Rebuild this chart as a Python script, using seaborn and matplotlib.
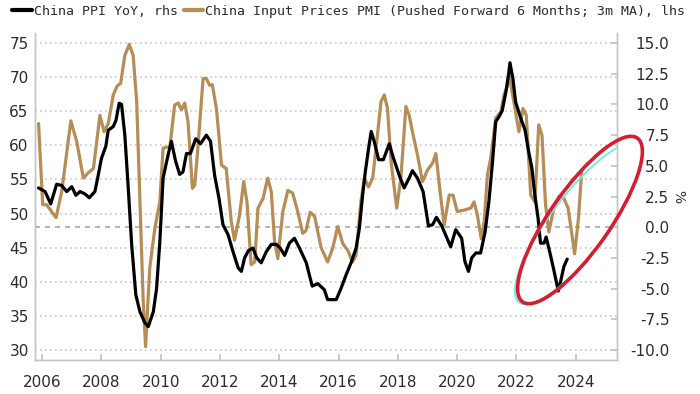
import matplotlib
matplotlib.use("Agg")
import matplotlib.pyplot as plt
import seaborn as sns
from matplotlib.lines import Line2D
from matplotlib.patches import Ellipse
from matplotlib.transforms import IdentityTransform

# China PPI YoY (%), right axis
ppi_years = [2005.88, 2006.10, 2006.29, 2006.49, 2006.66, 2006.83, 2007.00, 2007.14,
             2007.28, 2007.45, 2007.59, 2007.78, 2007.89, 2008.00, 2008.15, 2008.23,
             2008.40, 2008.49, 2008.60, 2008.68, 2008.79, 2008.90, 2009.02, 2009.16,
             2009.30, 2009.47, 2009.58, 2009.75, 2009.86, 2009.97, 2010.08, 2010.25,
             2010.36, 2010.50, 2010.64, 2010.75, 2010.87, 2011.00, 2011.18, 2011.34,
             2011.54, 2011.68, 2011.82, 2011.97, 2012.10, 2012.27, 2012.44, 2012.61,
             2012.72, 2012.83, 2012.96, 2013.11, 2013.24, 2013.39, 2013.56, 2013.73,
             2013.90, 2014.03, 2014.18, 2014.34, 2014.51, 2014.68, 2014.91, 2015.11,
             2015.30, 2015.52, 2015.63, 2015.92, 2016.08, 2016.25, 2016.42, 2016.59,
             2016.70, 2016.81, 2016.90, 2017.01, 2017.10, 2017.20, 2017.35, 2017.51,
             2017.71, 2017.84, 2018.05, 2018.21, 2018.38, 2018.49, 2018.66, 2018.85,
             2019.03, 2019.17, 2019.30, 2019.48, 2019.64, 2019.78, 2019.95, 2020.15,
             2020.26, 2020.38, 2020.49, 2020.63, 2020.79, 2020.94, 2021.07, 2021.19,
             2021.30, 2021.41, 2021.52, 2021.64, 2021.73, 2021.78, 2021.88, 2021.97,
             2022.14, 2022.29, 2022.40, 2022.52, 2022.62, 2022.73, 2022.81, 2022.93,
             2023.00, 2023.12, 2023.26, 2023.41, 2023.49, 2023.60, 2023.71]
ppi_values = [3.2, 2.9, 1.9, 3.5, 3.4, 2.9, 3.3, 2.6,
              2.9, 2.7, 2.4, 2.9, 4.2, 5.6, 6.6, 7.9,
              8.2, 8.7, 10.1, 10.0, 7.5, 3.4, -1.4, -5.5,
              -6.9, -7.8, -8.1, -6.9, -5.0, -1.2, 4.0, 5.9,
              7.0, 5.4, 4.3, 4.5, 6.0, 6.0, 7.2, 6.8,
              7.5, 7.0, 4.2, 2.3, 0.2, -0.6, -2.0, -3.3,
              -3.6, -2.5, -1.9, -1.7, -2.5, -2.9, -2.0, -1.4,
              -1.4, -1.7, -2.3, -1.3, -0.9, -1.7, -2.9, -4.8,
              -4.6, -5.1, -5.9, -5.9, -5.0, -3.9, -2.9, -1.7,
              -0.1, 2.6, 4.5, 6.4, 7.8, 7.0, 5.5, 5.5,
              6.8, 5.7, 4.2, 3.2, 4.0, 4.6, 4.0, 2.9,
              0.1, 0.2, 0.8, 0.1, -0.8, -1.6, -0.2, -0.9,
              -2.8, -3.6, -2.5, -2.1, -2.1, -0.4, 2.1, 5.3,
              8.6, 9.0, 9.5, 11.0, 12.4, 13.4, 12.1, 10.2,
              8.9, 7.9, 6.3, 4.8, 2.6, 0.7, -1.3, -1.3,
              -0.8, -2.0, -3.5, -5.2, -4.4, -3.2, -2.6]

# China Input Prices PMI (pushed forward 6 months; 3m MA), left axis
pmi_years = [2005.88, 2006.02, 2006.15, 2006.47, 2006.66, 2006.97, 2007.17, 2007.39,
             2007.56, 2007.73, 2007.95, 2008.09, 2008.23, 2008.40, 2008.53, 2008.65,
             2008.79, 2008.94, 2009.07, 2009.19, 2009.30, 2009.41, 2009.49, 2009.63,
             2009.80, 2009.97, 2010.08, 2010.31, 2010.47, 2010.59, 2010.70, 2010.81,
             2010.92, 2011.07, 2011.15, 2011.26, 2011.43, 2011.54, 2011.65, 2011.74,
             2011.88, 2012.05, 2012.21, 2012.38, 2012.49, 2012.66, 2012.80, 2012.91,
             2013.05, 2013.17, 2013.28, 2013.45, 2013.61, 2013.73, 2013.84, 2013.95,
             2014.12, 2014.29, 2014.45, 2014.62, 2014.79, 2014.90, 2015.04, 2015.19,
             2015.41, 2015.63, 2015.80, 2015.97, 2016.14, 2016.31, 2016.47, 2016.59,
             2016.75, 2016.87, 2017.01, 2017.15, 2017.31, 2017.43, 2017.54, 2017.65,
             2017.77, 2017.96, 2018.10, 2018.27, 2018.38, 2018.49, 2018.66, 2018.83,
             2019.00, 2019.17, 2019.28, 2019.41, 2019.56, 2019.73, 2019.86, 2020.00,
             2020.23, 2020.46, 2020.57, 2020.68, 2020.81, 2020.91, 2021.02, 2021.13,
             2021.30, 2021.47, 2021.58, 2021.68, 2021.75, 2021.91, 2022.08, 2022.22,
             2022.33, 2022.48, 2022.62, 2022.75, 2022.86, 2022.98, 2023.09, 2023.26,
             2023.43, 2023.60, 2023.74, 2023.87, 2023.96, 2024.09, 2024.20]
pmi_values = [63.2, 51.3, 51.3, 49.4, 53.2, 63.6, 60.5, 55.2,
              56.0, 56.6, 64.4, 62.0, 63.2, 67.4, 68.7, 69.1,
              73.2, 74.8, 73.2, 66.4, 51.7, 37.1, 30.5, 42.0,
              47.8, 51.7, 59.6, 59.8, 65.9, 66.2, 65.2, 66.2,
              63.5, 53.7, 54.2, 60.0, 69.8, 69.8, 68.8, 68.9,
              65.4, 57.1, 56.6, 48.8, 46.1, 49.8, 54.7, 51.7,
              42.5, 42.9, 50.8, 52.2, 55.2, 53.2, 45.9, 43.4,
              50.3, 53.4, 53.0, 50.3, 47.1, 47.5, 50.2, 49.6,
              45.0, 42.9, 44.9, 48.1, 45.6, 44.6, 42.9, 43.9,
              51.7, 55.2, 53.9, 55.2, 61.5, 66.4, 67.4, 65.4,
              57.6, 50.8, 55.2, 65.7, 64.4, 62.0, 58.6, 54.7,
              56.4, 57.4, 58.8, 53.7, 48.3, 52.7, 52.7, 50.3,
              50.5, 50.8, 51.7, 49.8, 46.3, 48.8, 55.7, 58.1,
              64.0, 64.9, 67.4, 68.5, 70.3, 66.4, 62.0, 65.4,
              64.4, 52.7, 51.7, 63.0, 61.5, 51.3, 47.3, 50.8,
              52.5, 52.2, 50.8, 46.9, 44.1, 49.3, 56.3]

year_ticks = [2006, 2008, 2010, 2012, 2014, 2016, 2018, 2020, 2022, 2024]
pmi_ticks = [30, 35, 40, 45, 50, 55, 60, 65, 70, 75]
ppi_ticks = [-10.0, -7.5, -5.0, -2.5, 0.0, 2.5, 5.0, 7.5, 10.0, 12.5, 15.0]

ppi_label = "China PPI YoY, rhs"
pmi_label = "China Input Prices PMI (Pushed Forward 6 Months; 3m MA), lhs"

BLACK = "#000000"
TAN = "#B68D57"
TEXT = "#2b2b2b"

sns.set_theme(style="white")
plt.rcParams["font.family"] = ["DejaVu Sans"]

fig = plt.figure(figsize=(7, 3.94), dpi=100)
ax = fig.add_axes([0.05, 0.0863, 0.831, 0.8299])
ax2 = ax.twinx()

# PMI on left axis, PPI on right axis
sns.lineplot(x=pmi_years, y=pmi_values, ax=ax, color=TAN, linewidth=2.3,
             solid_joinstyle="round")
sns.lineplot(x=ppi_years, y=ppi_values, ax=ax2, color=BLACK, linewidth=2.3,
             solid_joinstyle="round")

ax.set_xlim(2005.76, 2025.38)
ax.set_ylim(28.53, 76.47)
ax2.set_ylim(-10.82, 15.82)

ax.set_xticks(year_ticks)
ax.set_xticklabels([str(y) for y in year_ticks])
ax.set_yticks(pmi_ticks)
ax2.set_yticks(ppi_ticks)
ax2.set_yticklabels([f"{v:.1f}" for v in ppi_ticks])

for a in (ax, ax2):
    for side in ("left", "right", "bottom"):
        a.spines[side].set_color("#c4c4c4")
        a.spines[side].set_linewidth(1.0)
    a.spines["top"].set_visible(False)

ax.yaxis.grid(True, linestyle=(0, (1, 2)), color="#c8c8c8", linewidth=1.2)
ax.xaxis.grid(False)
ax2.grid(False)
ax.axhline(48, color="#a8a8a8", linewidth=1.2, linestyle=(0, (3, 3)), zorder=0)

ax.tick_params(axis="x", direction="in", length=4, color="#c4c4c4", pad=10.5,
               labelsize=11, labelcolor=TEXT, bottom=True)
ax.tick_params(axis="y", direction="in", length=0, left=True, pad=4.5,
               labelsize=11, labelcolor=TEXT)
ax2.tick_params(axis="y", direction="in", length=4, color="#c4c4c4", right=True,
                pad=38, labelsize=11, labelcolor=TEXT)
for lbl in ax2.get_yticklabels():
    lbl.set_horizontalalignment("right")

ax.set_xlabel("")
ax.set_ylabel("")
ax2.set_ylabel("%", rotation=270, fontsize=10, color=TEXT)
ax2.yaxis.set_label_coords(1.118, 0.5)

# legend across the top
handles = [Line2D([], [], color=BLACK, linewidth=3),
           Line2D([], [], color=TAN, linewidth=3)]
fig.legend(handles, [ppi_label, pmi_label], loc="upper left",
           bbox_to_anchor=(0.017, 0.988), ncol=2, frameon=False,
           prop={"family": "DejaVu Sans Mono", "size": 9.5},
           handlelength=1.5, handletextpad=0.15, columnspacing=0.45,
           borderaxespad=0, borderpad=0, labelcolor=TEXT)

# hand-drawn style highlight around the latest readings
cyan = Ellipse((580, 394 - 223), 200, 58, angle=52.5, fill=False,
               edgecolor="#7BE6E8", linewidth=1.4, transform=IdentityTransform())
cyan.set_clip_box(ax.bbox)
fig.add_artist(cyan)
red = Ellipse((580, 394 - 220), 200, 60, angle=55, fill=False,
              edgecolor="#D51F2E", linewidth=2.6, transform=IdentityTransform(),
              clip_on=False)
fig.add_artist(red)

fig.savefig("out.png", dpi=100, facecolor="white")
plt.close(fig)
